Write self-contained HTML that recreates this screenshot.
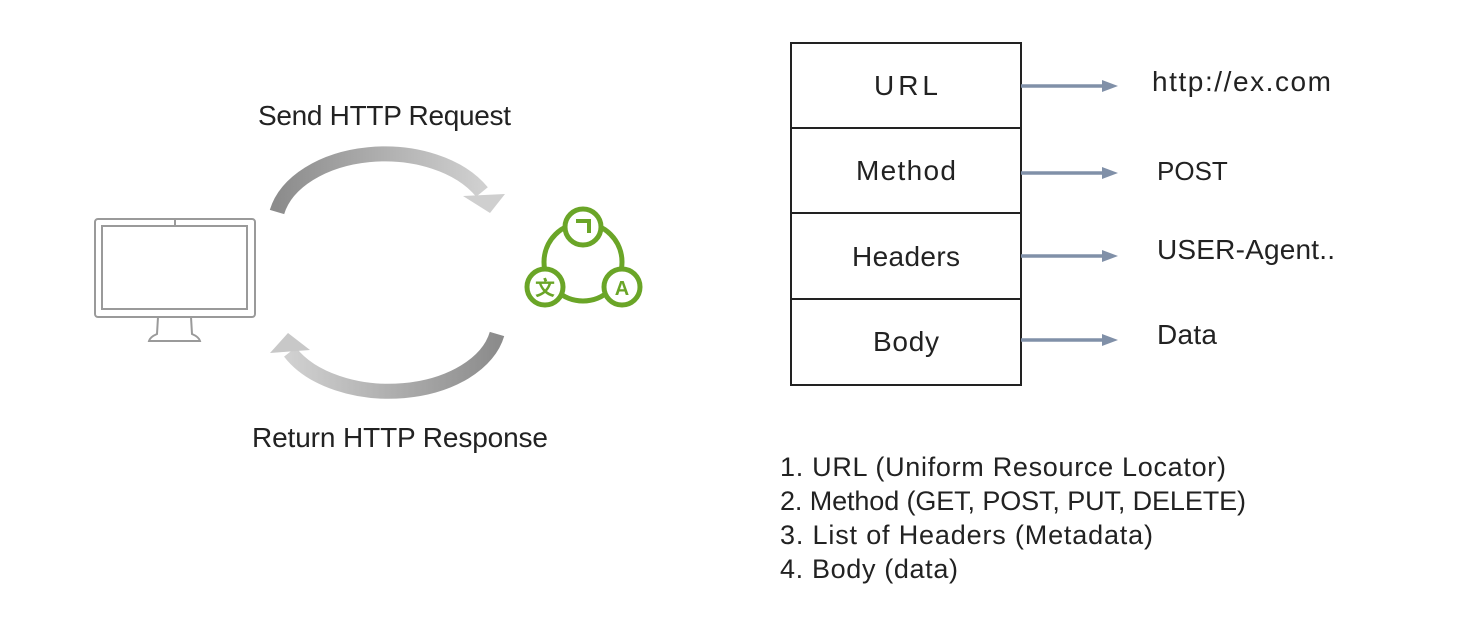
<!DOCTYPE html>
<html><head><meta charset="utf-8"><style>
html,body{margin:0;padding:0;background:#fff;}
svg{display:block;font-family:"Liberation Sans",sans-serif;}
</style></head><body>
<svg width="1482" height="626" viewBox="0 0 1482 626">
<defs>
<linearGradient id="g1" x1="0" x2="1" y1="0" y2="0"><stop offset="0" stop-color="#8c8c8c"/><stop offset="1" stop-color="#d0d0d0"/></linearGradient>
<linearGradient id="g2" x1="1" x2="0" y1="0" y2="0"><stop offset="0" stop-color="#8c8c8c"/><stop offset="1" stop-color="#d0d0d0"/></linearGradient>
</defs>
<g fill="none" stroke="#9a9a9a" stroke-width="2">
<rect x="95" y="219" width="160" height="98" rx="3"/>
<rect x="102" y="226" width="145" height="83"/>
<line x1="175" y1="219" x2="175" y2="226"/>
<path d="M158 317 L157 334 Q150 337 149 341 L200 341 Q199 337 192 334 L191 317"/>
</g>
<path d="M277 212 A110 72 0 0 1 482 192" fill="none" stroke="url(#g1)" stroke-width="15"/>
<polygon points="463,196 505,194 490,213" fill="#cfcfcf"/>
<path d="M497 334 A110 70 0 0 1 290 352" fill="none" stroke="url(#g2)" stroke-width="15"/>
<polygon points="270,353 310,350 288,333" fill="#c8c8c8"/>
<text x="258" y="125" font-size="28" fill="#222" textLength="253">Send HTTP Request</text>
<text x="252" y="447" font-size="28" fill="#222" textLength="296">Return HTTP Response</text>
<g fill="#fff" stroke="#6aa527" stroke-width="5">
<circle cx="583" cy="262" r="39"/>
<circle cx="583" cy="227" r="18"/>
<circle cx="545" cy="287" r="18"/>
<circle cx="622" cy="287" r="18"/>
</g>
<path d="M576 221 L589 221 L589 233" fill="none" stroke="#6aa527" stroke-width="4"/>
<text x="545" y="295" font-size="20" font-weight="bold" text-anchor="middle" fill="#6aa527" font-family="Noto Sans CJK SC,sans-serif">文</text>
<text x="622" y="295" font-size="20" font-weight="bold" text-anchor="middle" fill="#6aa527">A</text>
<g fill="none" stroke="#222" stroke-width="2">
<rect x="791" y="43" width="230" height="342"/>
<line x1="791" y1="128" x2="1021" y2="128"/>
<line x1="791" y1="213" x2="1021" y2="213"/>
<line x1="791" y1="299" x2="1021" y2="299"/>
</g>
<g font-size="28" fill="#222" text-anchor="middle">
<text x="906" y="95" textLength="64">URL</text>
<text x="906" y="180" textLength="100">Method</text>
<text x="906" y="266" textLength="108">Headers</text>
<text x="906" y="351" textLength="66">Body</text>
</g>
<g stroke="#8090a8" stroke-width="3.5" fill="#8090a8">
<line x1="1021" y1="86" x2="1105" y2="86"/><polygon points="1102,80 1118,86 1102,92" stroke="none"/>
<line x1="1021" y1="173" x2="1105" y2="173"/><polygon points="1102,167 1118,173 1102,179" stroke="none"/>
<line x1="1021" y1="256" x2="1105" y2="256"/><polygon points="1102,250 1118,256 1102,262" stroke="none"/>
<line x1="1021" y1="340" x2="1105" y2="340"/><polygon points="1102,334 1118,340 1102,346" stroke="none"/>
</g>
<g font-size="28" fill="#222">
<text x="1152" y="91" textLength="179">http://ex.com</text>
<text x="1157" y="180" font-size="26">POST</text>
<text x="1157" y="259" textLength="178">USER-Agent..</text>
<text x="1157" y="344" textLength="60">Data</text>
</g>
<g font-size="27" fill="#222">
<text x="780" y="476" textLength="446">1. URL (Uniform Resource Locator)</text>
<text x="780" y="510" textLength="466">2. Method (GET, POST, PUT, DELETE)</text>
<text x="780" y="544" textLength="373">3. List of Headers (Metadata)</text>
<text x="780" y="578" textLength="178">4. Body (data)</text>
</g>
</svg>
</body></html>
